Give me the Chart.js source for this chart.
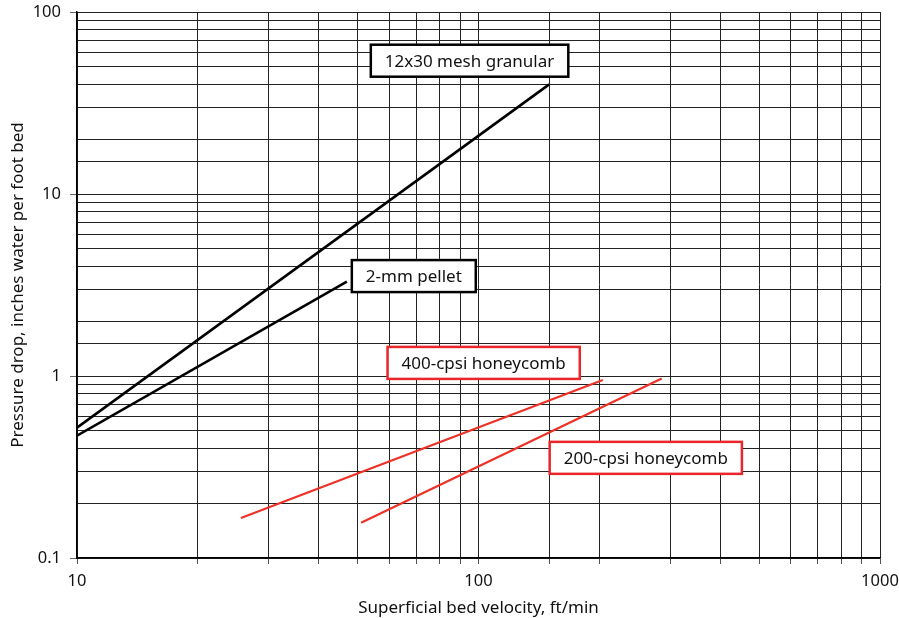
<!DOCTYPE html>
<html>
<head>
<meta charset="utf-8">
<script src="https://cdn.jsdelivr.net/npm/chart.js@4/dist/chart.umd.min.js"></script>
<style>
  html, body { margin: 0; padding: 0; background: #fff; }
  #wrap { width: 899px; height: 618px; }
</style>
</head>
<body>
<div id="wrap"><canvas id="grafico" width="899" height="618"></canvas></div>
<script>
// Datos (velocidad ft/min, caida de presion in agua / ft)
const granularVel = [10, 150];
const granularDrop = [0.52, 40];
const pelletVel = [10, 47];
const pelletDrop = [0.47, 3.3];
const honey400Vel = [25.6, 204];
const honey400Drop = [0.166, 0.95];
const honey200Vel = [51, 286];
const honey200Drop = [0.156, 0.97];

const xTickLabels = ['10', '100', '1000'];
const yTickLabels = ['0.1', '1', '10', '100'];

// Etiquetas de las curvas: texto, ancla (x, y en datos) y color del borde
const etiquetasTexto = ['12x30 mesh granular', '2-mm pellet', '400-cpsi honeycomb', '200-cpsi honeycomb'];
const etiquetasX = [95, 69, 103, 261];
const etiquetasY = [54, 3.54, 1.18, 0.355];
const etiquetasColor = ['#000000', '#000000', '#e8262c', '#e8262c'];

const fuente = '"Noto Sans", "Open Sans", "DejaVu Sans", sans-serif';
const ROJO = '#ee3126';

const puntos = (xs, ys) => xs.map((x, i) => ({ x, y: ys[i] }));
const esMayor = v => Math.abs(Math.log10(v) - Math.round(Math.log10(v))) < 1e-6;

const serie = (nombre, xs, ys, color, ancho) => ({
    label: nombre,
    data: puntos(xs, ys),
    borderColor: color,
    borderWidth: ancho,
    pointRadius: 0,
    fill: false,
    tension: 0
});

// Plugin sencillo para dibujar las cajas de texto
const cajasEtiquetas = {
    id: 'cajasEtiquetas',
    afterDatasetsDraw(chart) {
        const { ctx, scales: { x, y } } = chart;
        ctx.save();
        ctx.font = '17px ' + fuente;
        ctx.textAlign = 'center';
        ctx.textBaseline = 'middle';
        etiquetasTexto.forEach((texto, i) => {
            const cx = x.getPixelForValue(etiquetasX[i]);
            const cy = y.getPixelForValue(etiquetasY[i]);
            const w = ctx.measureText(texto).width + 28;
            const h = 32;
            ctx.fillStyle = '#fff';
            ctx.fillRect(cx - w / 2, cy - h / 2, w, h);
            ctx.lineWidth = 2.5;
            ctx.strokeStyle = etiquetasColor[i];
            ctx.strokeRect(cx - w / 2, cy - h / 2, w, h);
            ctx.fillStyle = '#111';
            ctx.fillText(texto, cx, cy + 1);
        });
        ctx.restore();
    }
};

// Quitar el relleno extra que Chart.js reserva para las etiquetas de los extremos
const sinRellenoX = scale => { scale.height = 60; scale.paddingLeft = 0; scale.paddingRight = 0; };
const sinRellenoY = scale => { scale.width = 77; scale.paddingTop = 0; scale.paddingBottom = 0; };

const ctx = document.getElementById('grafico').getContext('2d');

new Chart(ctx, {
    type: 'line',
    data: {
        datasets: [
            serie('12x30 mesh granular', granularVel, granularDrop, '#000', 2.6),
            serie('2-mm pellet', pelletVel, pelletDrop, '#000', 2.6),
            serie('400-cpsi honeycomb', honey400Vel, honey400Drop, ROJO, 2.2),
            serie('200-cpsi honeycomb', honey200Vel, honey200Drop, ROJO, 2.2)
        ]
    },
    options: {
        responsive: false,
        animation: false,
        layout: { padding: { top: 12, right: 19, left: 0, bottom: 0 } },
        plugins: {
            legend: { display: false },
            tooltip: { enabled: false }
        },
        scales: {
            x: {
                type: 'logarithmic',
                min: 10,
                max: 1000,
                afterFit: sinRellenoX,
                grid: {
                    color: '#222',
                    lineWidth: 1,
                    tickLength: 6,
                    tickColor: '#555'
                },
                border: { color: '#000', width: 1.5 },
                ticks: {
                    autoSkip: false,
                    maxRotation: 0,
                    padding: 7,
                    color: '#111',
                    font: { family: fuente, size: 16.5 },
                    callback: v => esMayor(v) ? xTickLabels[Math.round(Math.log10(v)) - 1] : ''
                },
                title: {
                    display: true,
                    text: 'Superficial bed velocity, ft/min',
                    color: '#111',
                    font: { family: fuente, size: 17 },
                    padding: { top: 0, bottom: 0 }
                }
            },
            y: {
                type: 'logarithmic',
                min: 0.1,
                max: 100,
                afterFit: sinRellenoY,
                grid: {
                    color: '#222',
                    lineWidth: 1,
                    tickLength: 7,
                    tickColor: c => (c.tick && esMayor(c.tick.value)) ? '#666' : 'rgba(0,0,0,0)'
                },
                border: { color: '#000', width: 1.5 },
                ticks: {
                    autoSkip: false,
                    padding: 9,
                    color: '#111',
                    font: { family: fuente, size: 16.5 },
                    callback: v => esMayor(v) ? yTickLabels[Math.round(Math.log10(v)) + 1] : ''
                },
                title: {
                    display: true,
                    text: 'Pressure drop, inches water per foot bed',
                    color: '#111',
                    font: { family: fuente, size: 17 },
                    padding: { top: 8, bottom: 0 }
                }
            }
        }
    },
    plugins: [cajasEtiquetas]
});
</script>
</body>
</html>
